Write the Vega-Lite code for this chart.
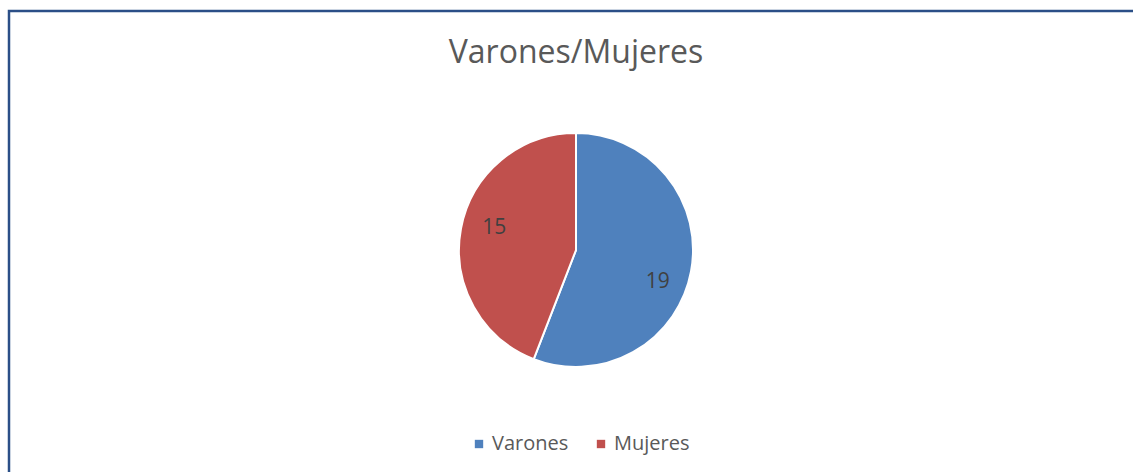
{
  "$schema": "https://vega.github.io/schema/vega-lite/v6.json",
  "autosize": {"type": "pad"},
  "padding": {"left": 7, "top": 9, "right": -9, "bottom": -16},
  "background": "#ffffff",
  "title": {
    "text": "Varones/Mujeres",
    "anchor": "middle",
    "offset": -85,
    "baseline": "alphabetic",
    "font": "Open Sans",
    "fontSize": 32,
    "fontWeight": "normal",
    "color": "#595959"
  },
  "data": {
    "values": [
      {"sexo": "Varones", "cantidad": 19},
      {"sexo": "Mujeres", "cantidad": 15}
    ]
  },
  "hconcat": [
    {
      "width": 1134,
      "height": 478,
      "view": {"stroke": "#2B4F87", "strokeWidth": 2.5, "fill": "#ffffff"},
      "encoding": {
        "theta": {"field": "cantidad", "type": "quantitative", "stack": true},
        "order": {"field": "cantidad", "type": "quantitative", "sort": "descending"},
        "color": {
          "field": "sexo",
          "type": "nominal",
          "scale": {"domain": ["Varones", "Mujeres"], "range": ["#4F81BD", "#C0504D"]},
          "legend": {
            "title": null,
            "orient": "none",
            "direction": "horizontal",
            "legendX": 460,
            "legendY": 423,
            "symbolType": "square",
            "symbolSize": 70,
            "symbolStrokeWidth": 0,
            "labelFont": "Open Sans",
            "labelFontSize": 20,
            "labelColor": "#595959",
            "labelOffset": 3,
            "columnPadding": 22
          }
        }
      },
      "layer": [
        {
          "mark": {"type": "arc", "outerRadius": 117, "stroke": "#ffffff", "strokeWidth": 2}
        },
        {
          "mark": {"type": "text", "radius": 86, "thetaOffset": 0.135, "dy": 5, "font": "Open Sans", "fontSize": 21, "fill": "#404040"},
          "encoding": {
            "text": {"field": "cantidad", "type": "quantitative"},
            "color": {"value": "#404040"}
          }
        }
      ]
    }
  ]
}
